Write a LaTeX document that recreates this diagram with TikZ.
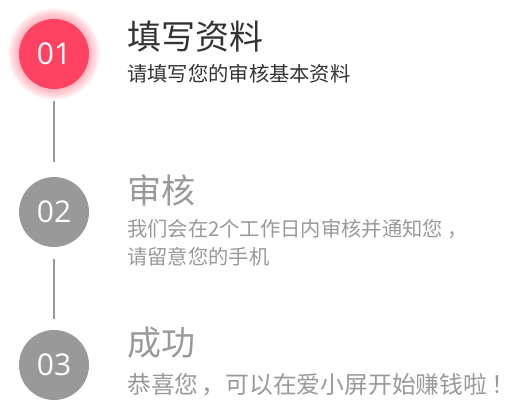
\documentclass[tikz,border=0pt]{standalone}
\usepackage{fontspec}
\setmainfont{Open Sans}
\newfontfamily\cjk{Noto Sans CJK SC}
\usetikzlibrary{positioning}
\definecolor{stepred}{HTML}{FE4262}
\definecolor{stepgray}{HTML}{999999}
\definecolor{darktext}{HTML}{333333}

\begin{document}
\begin{tikzpicture}[x=1pt,y=-1pt,
  num/.style={circle,minimum size=70pt,inner sep=0pt,text=white,font=\fontsize{30}{30}\selectfont},
  title/.style={anchor=west,inner sep=0pt,font=\cjk\fontsize{34}{34}\selectfont},
  desc/.style={anchor=west,inner sep=0pt,font=\cjk\fontsize{20.3}{20.3}\selectfont},
  link/.style={stepgray,line width=2pt}]
\useasboundingbox (0,0) rectangle (508,400);
\def\tx{127}

% glow round the first step
\foreach \i in {1,...,11}
  \fill [stepred,opacity=0.045] (54,54) circle ({35+\i});

\node [num,fill=stepred] (n1) at (54,54) {01};
\node [num,fill=stepgray] (n2) at (54,212) {02};
\node [num,fill=stepgray] (n3) at (54,365) {03};

\draw [link,shorten <=12pt,shorten >=15pt] (n1.south) -- (n2.north);
\draw [link,shorten <=12pt,shorten >=11pt] (n2.south) -- (n3.north);

\node [title,text=darktext] (t1) at (\tx,37) {填写资料};
\node [desc,text=darktext] (d1) at (\tx,74) {请填写您的审核基本资料};

\node [title,text=stepgray] (t2) at (\tx,190) {审核};
\node [desc,text=stepgray] (d2a) at (\tx,229) {我们会在2个工作日内审核并通知您\kern5pt，};
\node [desc,text=stepgray] (d2b) at (\tx,257) {请留意您的手机};

\node [title,text=stepgray] (t3) at (\tx,343) {成功};
\node [desc,text=stepgray,font=\cjk\fontsize{23.8}{23.8}\selectfont] (d3) at (\tx,385) {恭喜您\kern3pt，可以在爱小屏开始赚钱啦\kern4pt\makebox[9pt][l]{！}};
\end{tikzpicture}
\end{document}
